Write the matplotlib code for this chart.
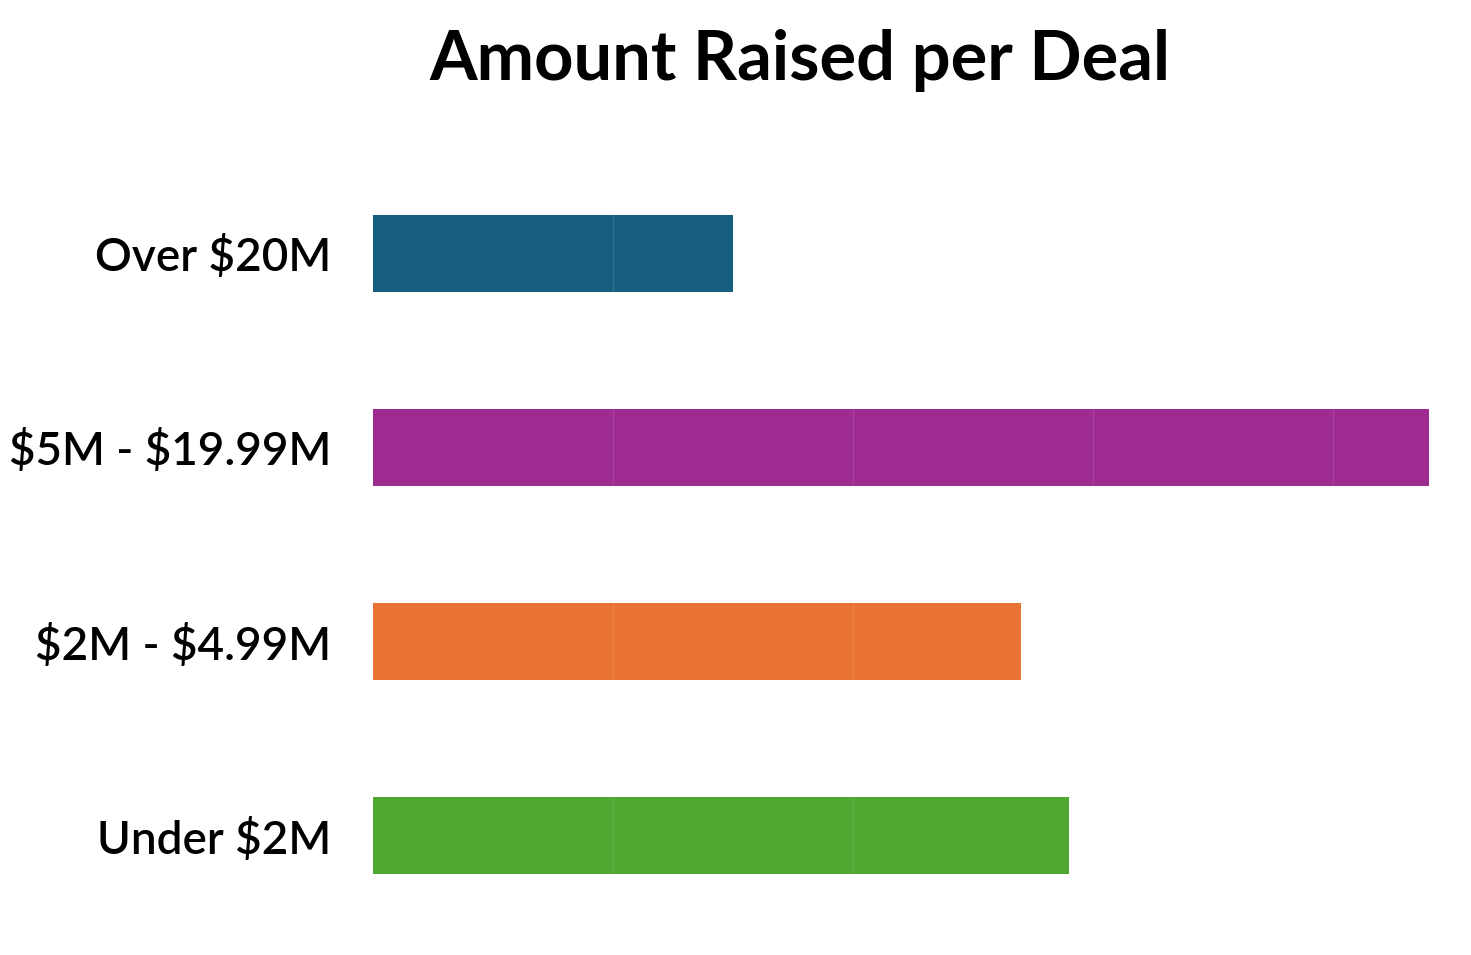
import numpy as np
import matplotlib
matplotlib.use('Agg')
import matplotlib.pyplot as plt

# DATA
categories = ['Over $20M', '$5M - $19.99M', '$2M - $4.99M', 'Under $2M']
deals = [15, 44, 27, 29]
colors = ['#175f80', '#9e2b90', '#ea7334', '#50a732']

plt.rcParams['font.family'] = ['Lato', 'DejaVu Sans']
plt.rcParams['text.parse_math'] = False

fig = plt.figure(figsize=(14.71, 9.55), dpi=100)
ax = fig.add_axes([373 / 1471, 1 - 952 / 955, (1440 - 373) / 1471, (952 - 137) / 955])

y = np.arange(len(categories))
ax.barh(y, deals, height=0.4, color=colors, zorder=2)

ax.set_xlim(0, 44.46)
ax.set_ylim(3.6, -0.6)
ax.set_yticks(y)
ax.set_yticklabels(categories, fontsize=33, fontweight='semibold')
ax.tick_params(axis='y', length=0, pad=30)
ax.set_xticks([10, 20, 30, 40])
ax.tick_params(axis='x', length=0, labelbottom=False)
ax.grid(axis='x', color='white', alpha=0.1, linewidth=1, zorder=3)
ax.set_axisbelow(False)
for s in ax.spines.values():
    s.set_visible(False)

fig.text(800 / 1471, 1 - 60 / 955, 'Amount Raised per Deal', fontsize=49.4,
         fontweight='bold', ha='center', va='center')

fig.savefig('out.png', dpi=100, facecolor='white')
